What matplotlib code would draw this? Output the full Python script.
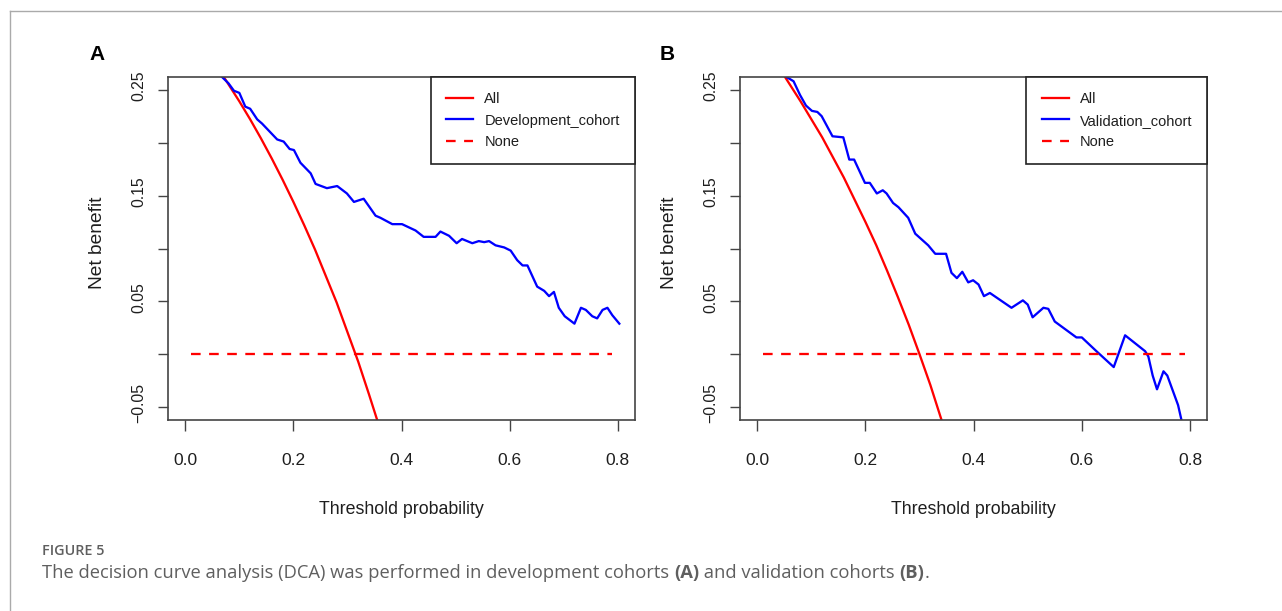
import matplotlib
matplotlib.use("Agg")
import matplotlib.pyplot as plt
import matplotlib.transforms as mtransforms
from matplotlib import font_manager
from matplotlib.lines import Line2D

# ---- values ----
# panel A: treat-all curve
thr_all_a = [0.06, 0.07, 0.08, 0.10, 0.12, 0.14, 0.16, 0.18, 0.20, 0.22,
             0.24, 0.26, 0.28, 0.30, 0.32, 0.34, 0.36]
nb_all_a = [0.271, 0.263, 0.255, 0.239, 0.222, 0.204, 0.185, 0.165, 0.144, 0.122,
            0.099, 0.074, 0.049, 0.021, -0.007, -0.038, -0.070]

# panel A: development cohort model
thr_dev = [0.068, 0.080, 0.090, 0.100, 0.111, 0.120, 0.133, 0.142, 0.170, 0.182,
           0.193, 0.201, 0.213, 0.232, 0.241, 0.262, 0.281, 0.299, 0.312, 0.330,
           0.352, 0.361, 0.383, 0.401, 0.426, 0.441, 0.463, 0.472, 0.488, 0.502,
           0.512, 0.531, 0.543, 0.553, 0.562, 0.574, 0.590, 0.602, 0.614, 0.624,
           0.633, 0.651, 0.664, 0.673, 0.682, 0.691, 0.702, 0.720, 0.732, 0.741,
           0.753, 0.762, 0.772, 0.781, 0.790, 0.803]
nb_dev = [0.262, 0.256, 0.249, 0.247, 0.234, 0.232, 0.222, 0.218, 0.203, 0.201,
          0.194, 0.193, 0.181, 0.171, 0.161, 0.157, 0.159, 0.152, 0.144, 0.147,
          0.131, 0.129, 0.123, 0.123, 0.117, 0.111, 0.111, 0.116, 0.112, 0.105,
          0.109, 0.105, 0.107, 0.106, 0.107, 0.103, 0.101, 0.098, 0.089, 0.084,
          0.084, 0.064, 0.060, 0.055, 0.059, 0.044, 0.036, 0.029, 0.044, 0.042,
          0.036, 0.034, 0.042, 0.044, 0.037, 0.029]

# panel B: treat-all curve
thr_all_b = [0.04, 0.05, 0.06, 0.08, 0.10, 0.12, 0.14, 0.16, 0.18, 0.20,
             0.22, 0.24, 0.26, 0.28, 0.30, 0.32, 0.34, 0.35]
nb_all_b = [0.271, 0.263, 0.255, 0.239, 0.222, 0.205, 0.186, 0.167, 0.146, 0.125,
            0.103, 0.079, 0.054, 0.028, 0.000, -0.029, -0.061, -0.077]

# panel B: validation cohort model
thr_val = [0.054, 0.067, 0.079, 0.090, 0.101, 0.111, 0.119, 0.139, 0.159, 0.170,
           0.179, 0.199, 0.208, 0.221, 0.232, 0.239, 0.251, 0.261, 0.279, 0.292,
           0.316, 0.329, 0.349, 0.359, 0.369, 0.379, 0.390, 0.399, 0.409, 0.419,
           0.430, 0.470, 0.491, 0.500, 0.509, 0.529, 0.538, 0.550, 0.590, 0.600,
           0.627, 0.659, 0.680, 0.717, 0.723, 0.731, 0.739, 0.751, 0.758, 0.778,
           0.790]
nb_val = [0.262, 0.258, 0.245, 0.235, 0.230, 0.229, 0.225, 0.206, 0.205, 0.184,
          0.184, 0.162, 0.162, 0.152, 0.155, 0.152, 0.143, 0.139, 0.129, 0.114,
          0.103, 0.095, 0.095, 0.077, 0.072, 0.078, 0.068, 0.070, 0.066, 0.055,
          0.058, 0.044, 0.051, 0.047, 0.035, 0.044, 0.043, 0.031, 0.016, 0.016,
          0.003, -0.012, 0.018, 0.003, -0.002, -0.020, -0.033, -0.016, -0.020, -0.048,
          -0.075]

# treat-none reference line
thr_none = [0.01, 0.79]
nb_none = [0.0, 0.0]

x_ticks = [0.0, 0.2, 0.4, 0.6, 0.8]
y_ticks = [-0.05, 0.0, 0.05, 0.10, 0.15, 0.20, 0.25]
y_tick_labels = ["\u22120.05", "", "0.05", "", "0.15", "", "0.25"]

W, H = 1282, 611
fig = plt.figure(figsize=(W / 100, H / 100), dpi=100)
fig.patch.set_facecolor("white")

sans = ["Liberation Sans", "DejaVu Sans"]
ink = "#1e1e1e"

# the legend text in the picture is condensed; use the narrow face if it is there
installed = {f.name for f in font_manager.fontManager.ttflist}
if "Liberation Sans Narrow" in installed:
    leg_prop = {"family": ["Liberation Sans Narrow"], "size": 12.6}
    leg_kw = dict(handlelength=1.65, handletextpad=0.75, borderpad=0.75, labelspacing=0.1)
else:
    leg_prop = {"family": sans, "size": 10.5}
    leg_kw = dict(handlelength=1.85, handletextpad=0.75, borderpad=1.05, labelspacing=0.5)


def panel(rect, thr_all, nb_all, thr_model, nb_model, model_name, letter, letter_x):
    ax = fig.add_axes(rect)
    ax.plot(thr_all, nb_all, color="#ff0000", lw=1.65, label="All")
    ax.plot(thr_model, nb_model, color="#0000ff", lw=1.65, label=model_name)
    ax.plot(thr_none, nb_none, color="#ff0000", lw=1.65, dashes=(4.2, 3.7), label="None")
    ax.set_xlim(-0.032, 0.832)
    ax.set_ylim(-0.062, 0.262)
    ax.set_xticks(x_ticks)
    ax.set_xticklabels([f"{v:.1f}" for v in x_ticks], family=sans, fontsize=12.5, color=ink)
    ax.set_yticks(y_ticks)
    ax.set_yticklabels(y_tick_labels, family=sans, fontsize=11.3, color=ink,
                       rotation=90, va="center")
    ax.tick_params(axis="x", length=8, width=1, pad=15.5, colors="#444444", labelcolor=ink)
    ax.tick_params(axis="y", length=7.5, width=1, pad=8, colors="#444444", labelcolor=ink)
    # R sets these labels a few pixels above the tick
    up = mtransforms.ScaledTranslation(0, 4 / 100, fig.dpi_scale_trans)
    for lab in ax.get_yticklabels():
        lab.set_transform(lab.get_transform() + up)
    for sp in ax.spines.values():
        sp.set_color("#444444")
        sp.set_linewidth(1.2)
    ax.set_xlabel("Threshold probability", family=sans, fontsize=12.8, color=ink,
                  va="center")
    ax.xaxis.set_label_coords(0.5, -0.262)
    ax.set_ylabel("Net benefit", family=sans, fontsize=13.8, color=ink,
                  va="center", ha="center")
    ax.yaxis.set_label_coords(-0.150, 0.517)
    leg = ax.legend(loc="upper right", borderaxespad=0, fancybox=False,
                    edgecolor="#222222", framealpha=1, prop=leg_prop, **leg_kw)
    leg.get_frame().set_linewidth(1.2)
    for t in leg.get_texts():
        t.set_color(ink)
    fig.text(letter_x / W, 1 - 54 / H, letter, family=sans, fontsize=15,
             fontweight="bold", ha="center", va="center", color="black")
    return ax


panel([168 / W, 1 - 420 / H, 467 / W, 343 / H], thr_all_a, nb_all_a,
      thr_dev, nb_dev, "Development_cohort", "A", 97)
panel([740 / W, 1 - 420 / H, 467.3 / W, 343 / H], thr_all_b, nb_all_b,
      thr_val, nb_val, "Validation_cohort", "B", 667)

# page frame (top and left rule)
fig.add_artist(Line2D([9.5 / W, 1], [1 - 11 / H, 1 - 11 / H], transform=fig.transFigure,
                      color="#aaaaaa", lw=1))
fig.add_artist(Line2D([9.5 / W, 9.5 / W], [0, 1 - 11 / H], transform=fig.transFigure,
                      color="#aaaaaa", lw=1))

# caption
cap_font = ["Open Sans", "DejaVu Sans"]
grey = "#5f5f5f"
fig.text(42 / W, 1 - 551 / H, "FIGURE 5", family=cap_font, fontsize=10.4,
         fontweight="semibold", color=grey, va="center")

parts = [("The decision curve analysis (DCA) was performed in development cohorts ", "normal"),
         ("(A)", "bold"),
         (" and validation cohorts ", "normal"),
         ("(B)", "bold"),
         (".", "normal")]
renderer = fig.canvas.get_renderer()
x_px = 42
for txt, wt in parts:
    t = fig.text(x_px / W, 1 - 573 / H, txt, family=cap_font, fontsize=13.2,
                 fontweight=wt, color=grey, va="center")
    bb = t.get_window_extent(renderer=renderer)
    x_px = bb.x1

fig.savefig("out.png", dpi=100, facecolor="white")
